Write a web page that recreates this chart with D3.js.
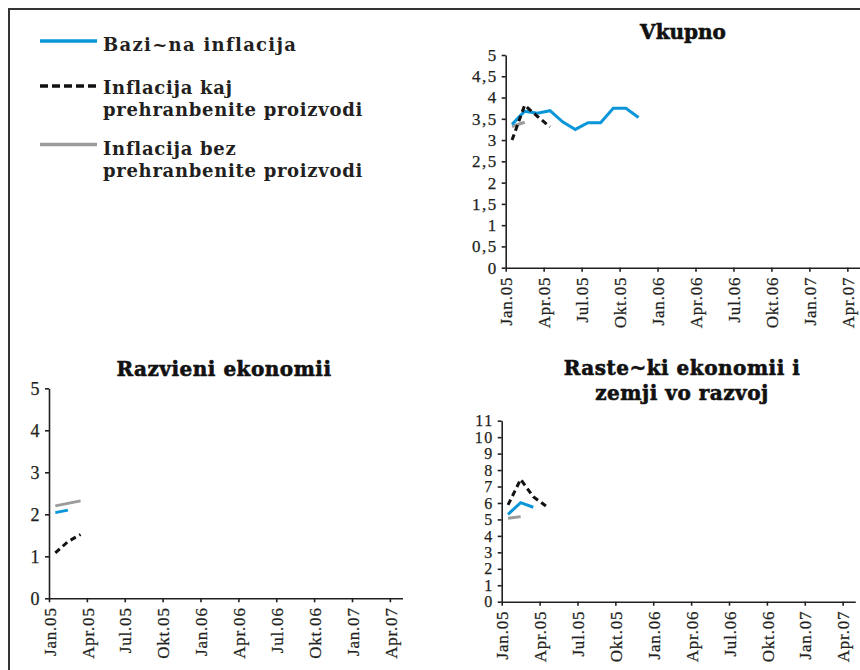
<!DOCTYPE html>
<html>
<head>
<meta charset="utf-8">
<script src="https://cdn.jsdelivr.net/npm/d3@7/dist/d3.min.js"></script>
<style>
  html, body { margin: 0; padding: 0; background: #fff; }
  svg { display: block; }
</style>
</head>
<body>
<svg id="chart" width="860" height="670"></svg>
<script>
// ---------------- DATA ----------------
const months = ["Jan.05","Feb.05","Mar.05","Apr.05","May.05","Jun.05","Jul.05","Avg.05","Sep.05","Okt.05","Noe.05"];
const xTickLabels = ["Jan.05","Apr.05","Jul.05","Okt.05","Jan.06","Apr.06","Jul.06","Okt.06","Jan.07","Apr.07"];
const monthsOnAxis = 28;

const seriesNames = ["Bazi~na inflacija", "Inflacija kaj prehranbenite proizvodi", "Inflacija bez prehranbenite proizvodi"];

// Vkupno
const vkupnoCore    = [3.37, 3.68, 3.63, 3.69, 3.43, 3.25, 3.41, 3.41, 3.75, 3.75, 3.53];
const vkupnoFood    = [3.0, 3.82, 3.56, 3.31];
const vkupnoNonFood = [3.32, 3.42];
const vkupnoYTicks  = [0, 0.5, 1, 1.5, 2, 2.5, 3, 3.5, 4, 4.5, 5];

// Razvieni ekonomii
const razvCore    = [2.04, 2.1];
const razvFood    = [1.08, 1.35, 1.52];
const razvNonFood = [2.2, 2.26, 2.32];
const razvYTicks  = [0, 1, 2, 3, 4, 5];

// Rastecki ekonomii i zemji vo razvoj
const rastCore    = [5.31, 6.02, 5.74];
const rastFood    = [5.88, 7.44, 6.38, 5.82];
const rastNonFood = [5.07, 5.17];
const rastYTicks  = [0, 1, 2, 3, 4, 5, 6, 7, 8, 9, 10, 11];

// ---------------- STYLE ----------------
const C_CORE = "#0a96d8", C_FOOD = "#111111", C_NONFOOD = "#9b9b9b", C_TEXT = "#231f20", C_AXIS = "#231f20";
const serif = "Liberation Serif";
const heavy = "DejaVu Serif";

const svg = d3.select("#chart");
svg.append("rect").attr("width", 860).attr("height", 670).attr("fill", "#fff");

// frame
svg.append("path").attr("d", d3.line()([[9, 672], [9, 9], [862, 9]]))
  .attr("fill", "none").attr("stroke", "#333").attr("stroke-width", 2);

const fmt = v => String(v).replace(".", ",");

function drawChart(cfg) {
  const g = svg.append("g");
  const x = d3.scaleLinear().domain([0, monthsOnAxis]).range([cfg.x0, cfg.x1]);
  const y = d3.scaleLinear().domain([0, cfg.yMax]).range([cfg.yBottom, cfg.yTop]);

  // title
  const t = g.append("text").attr("x", cfg.titleX).attr("text-anchor", "middle")
    .style("font-family", heavy).style("font-weight", "bold").style("font-size", cfg.titleSize + "px")
    .style("letter-spacing", (cfg.titleSpacing || 0) + "px").attr("fill", "#111")
    .attr("stroke", "#111").attr("stroke-width", 0.6);
  cfg.title.forEach((line, i) => {
    t.append("tspan").attr("x", cfg.titleX).attr("y", cfg.titleY + i * cfg.titleLead).text(line);
  });

  // y axis
  const ya = g.append("g").attr("transform", `translate(${cfg.x0},0)`)
    .call(d3.axisLeft(y).tickValues(cfg.yTicks).tickFormat(fmt).tickSize(4).tickSizeOuter(0).tickPadding(4));
  ya.attr("font-family", serif).attr("font-size", cfg.yFont);
  ya.selectAll("text")
    .style("font-family", serif).style("font-size", cfg.yFont + "px")
    .style("letter-spacing", "1.5px")
    .attr("fill", C_TEXT).attr("stroke", C_TEXT).attr("stroke-width", 0.25);

  // x axis
  const xa = g.append("g").attr("transform", `translate(0,${cfg.yBottom})`)
    .call(d3.axisBottom(x).tickValues(xTickLabels.map((d, i) => i * 3))
      .tickFormat((d, i) => xTickLabels[i]).tickSize(4).tickSizeOuter(0));
  xa.attr("font-family", serif).attr("font-size", 17);
  xa.selectAll("text")
    .attr("transform", "rotate(-90)")
    .attr("x", -9).attr("y", 0).attr("dy", "0.36em")
    .style("text-anchor", "end")
    .style("font-family", serif).style("font-size", "17px")
    .style("letter-spacing", "0.8px")
    .attr("fill", C_TEXT).attr("stroke", C_TEXT).attr("stroke-width", 0.25);

  [ya, xa].forEach(a => {
    a.selectAll("path,line").attr("stroke", C_AXIS).attr("stroke-width", 1.6);
  });

  const line = d3.line().x((d, i) => x(i + 0.5)).y(d => y(d));
  const series = [
    { data: cfg.nonfood, color: C_NONFOOD, dash: null },
    { data: cfg.core, color: C_CORE, dash: null },
    { data: cfg.food, color: C_FOOD, dash: "6,4" }
  ];
  series.forEach(s => {
    g.append("path").datum(s.data).attr("d", line)
      .attr("fill", "none").attr("stroke", s.color).attr("stroke-width", 3)
      .attr("stroke-dasharray", s.dash);
  });
}

drawChart({
  title: ["Vkupno"], titleX: 683, titleY: 39, titleLead: 0, titleSize: 20,
  x0: 505.7, x1: 860, yTop: 55, yBottom: 267.7, yMax: 5, yTicks: vkupnoYTicks, yFont: 17,
  core: vkupnoCore, food: vkupnoFood, nonfood: vkupnoNonFood
});
drawChart({
  title: ["Razvieni ekonomii"], titleX: 224, titleY: 376, titleLead: 0, titleSize: 20, titleSpacing: 0.5,
  x0: 49, x1: 402.5, yTop: 388.3, yBottom: 598.3, yMax: 5, yTicks: razvYTicks, yFont: 18,
  core: razvCore, food: razvFood, nonfood: razvNonFood
});
drawChart({
  title: ["Raste~ki ekonomii i", "zemji vo razvoj"], titleX: 682, titleY: 375, titleLead: 25, titleSize: 20, titleSpacing: 0.5,
  x0: 501.7, x1: 855.3, yTop: 420.7, yBottom: 601.7, yMax: 11, yTicks: rastYTicks, yFont: 16,
  core: rastCore, food: rastFood, nonfood: rastNonFood
});

// legend
const legend = svg.append("g");
const legItems = [
  { lines: [seriesNames[0]], color: C_CORE, dash: null, ly: 41, ty: 51, ls: 1.3 },
  { lines: ["Inflacija kaj", "prehranbenite proizvodi"], color: C_FOOD, dash: "8,4", ly: 86, ty: 94, ls: 0.7 },
  { lines: ["Inflacija bez", "prehranbenite proizvodi"], color: C_NONFOOD, dash: null, ly: 144.5, ty: 155, ls: 0.7 }
];
legItems.forEach(it => {
  legend.append("line").attr("x1", 40).attr("x2", 97).attr("y1", it.ly).attr("y2", it.ly)
    .attr("stroke", it.color).attr("stroke-width", 3.4).attr("stroke-dasharray", it.dash);
  const t = legend.append("text").style("font-family", heavy).style("font-weight", "bold")
    .style("font-size", "18px").style("letter-spacing", it.ls + "px").attr("fill", C_TEXT);
  it.lines.forEach((l, i) => t.append("tspan").attr("x", 103).attr("y", it.ty + i * 22).text(l));
});
</script>
</body>
</html>
